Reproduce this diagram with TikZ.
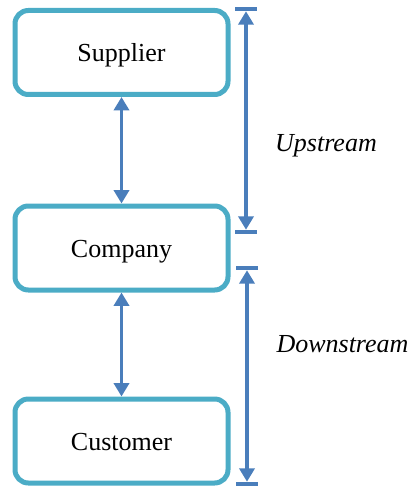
\documentclass[tikz,border=0pt]{standalone}
\usepackage{fontspec}
\setmainfont{Liberation Serif}
\usetikzlibrary{arrows.meta}
\definecolor{boxteal}{HTML}{4BACC6}
\definecolor{arrowblue}{HTML}{4A7EBB}
\tikzset{
  stage/.style={draw=boxteal, line width=3.75pt, rounded corners=10pt, fill=white,
    minimum width=159.75pt, minimum height=63pt, inner sep=0pt,
    text height=14pt, text depth=0pt,
    font=\fontsize{19.5pt}{23pt}\selectfont},
  flow/.style={draw=arrowblue, line width=2.6pt,
    {Triangle[width=11.25pt,length=10pt]}-{Triangle[width=11.25pt,length=10pt]}},
  endbar/.style={fill=arrowblue, inner sep=0pt, minimum width=16.5pt, minimum height=3pt},
  streamlabel/.style={anchor=base, inner sep=0pt, font=\fontsize{19.5pt}{23pt}\selectfont\itshape}
}
\begin{document}
\begin{tikzpicture}[x=0.75pt,y=-0.75pt]
  \useasboundingbox (0,0) rectangle (414,488);

  % the three stages of the chain
  \node[stage] (supplier) at (121.5,52.5) {Supplier};
  \node[stage] (company)  at (121.5,248)  {Company};
  \node[stage] (customer) at (121.5,441) {Customer};

  % links between stages
  \draw[flow] (supplier.south) -- (company.north);
  \draw[flow] (company.south) -- (customer.north);

  % upstream span
  \node[endbar] (uptop) at (246,9) {};
  \node[endbar] (upbot) at (246,232) {};
  \draw[flow] (uptop.south) -- (upbot.north);
  \node[streamlabel] (uplabel) at (326,152) {Upstream};

  % downstream span
  \node[endbar] (downtop) at (247,268) {};
  \node[endbar] (downbot) at (247,484) {};
  \draw[flow] (downtop.south) -- (downbot.north);
  \node[streamlabel] (downlabel) at (342.5,352) {Downstream};
\end{tikzpicture}
\end{document}
